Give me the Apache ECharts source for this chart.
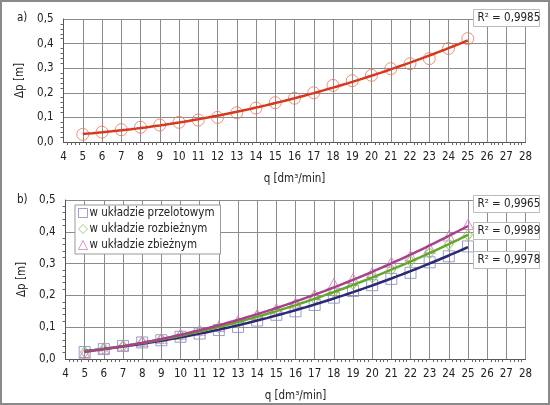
<!DOCTYPE html>
<html><head><meta charset="utf-8">
<script src="https://cdn.jsdelivr.net/npm/echarts@6/dist/echarts.min.js"></script>
<style>html,body{margin:0;padding:0;background:#fff}#c{width:550px;height:405px;box-sizing:border-box;border:2px solid #8a8a8a}</style>
</head><body><div id="c"></div>
<script>
// ---- data ----
var q = [5,6,7,8,9,10,11,12,13,14,15,16,17,18,19,20,21,22,23,24,25];
var dpA = [0.031,0.040,0.050,0.060,0.069,0.080,0.089,0.100,0.119,0.138,0.160,0.178,0.200,0.230,0.249,0.271,0.298,0.318,0.339,0.380,0.420];
var dpPrzelotowy = [0.022,0.031,0.041,0.052,0.059,0.070,0.080,0.091,0.101,0.121,0.139,0.150,0.170,0.193,0.214,0.232,0.252,0.271,0.304,0.323,0.354];
var dpRozbiezny = [0.022,0.033,0.041,0.052,0.062,0.074,0.087,0.099,0.114,0.134,0.150,0.168,0.189,0.211,0.236,0.256,0.281,0.307,0.333,0.361,0.390];
var dpZbiezny = [0.018,0.032,0.042,0.056,0.064,0.078,0.090,0.102,0.120,0.140,0.158,0.176,0.203,0.237,0.253,0.272,0.304,0.325,0.348,0.387,0.423];
var names = ['w układzie przelotowym','w układzie rozbieżnym','w układzie zbieżnym'];
var r2Labels = ['R² = 0,9985','R² = 0,9965','R² = 0,9989','R² = 0,9978'];
var xTitle = 'q [dm³/min]';
var yTitle = 'Δp [m]';

// quadratic least-squares trendline (like the spreadsheet trendline)
function quadFit(xs, ys){
  var n=xs.length,S=[0,0,0,0,0],T=[0,0,0];
  for(var i=0;i<n;i++){var x=xs[i],y=ys[i],p=1;for(var k=0;k<5;k++){S[k]+=p;if(k<3)T[k]+=p*y;p*=x;}}
  var A=[[S[0],S[1],S[2],T[0]],[S[1],S[2],S[3],T[1]],[S[2],S[3],S[4],T[2]]];
  for(var c=0;c<3;c++){for(var r=c+1;r<3;r++){var f=A[r][c]/A[c][c];for(var k2=c;k2<4;k2++)A[r][k2]-=f*A[c][k2];}}
  var b=[0,0,0];
  for(var r2=2;r2>=0;r2--){var s=A[r2][3];for(var k3=r2+1;k3<3;k3++)s-=A[r2][k3]*b[k3];b[r2]=s/A[r2][r2];}
  var out=[];
  for(var x2=xs[0];x2<=xs[n-1]+1e-9;x2+=0.25){out.push([x2,b[0]+b[1]*x2+b[2]*x2*x2]);}
  return out;
}
function pairs(ys){return q.map(function(x,i){return [x,ys[i]];});}

var FONT = '"DejaVu Sans Condensed","DejaVu Sans",sans-serif';
var FS = 'condensed';
var SIZE = 11.5;
var TS = {fontFamily:FONT,fontStyle:FS,fontSize:SIZE,color:'#222'};
var gridColor = '#8c8c8c';
function xAxis(gi){
  return {type:'value',gridIndex:gi,min:4,max:28,interval:1,
    name:xTitle,nameLocation:'middle',nameGap:31,
    nameTextStyle:TS,
    axisLine:{lineStyle:{color:'#555',width:1}},
    axisTick:{show:false},
    minorTick:{show:true,splitNumber:5,length:3,lineStyle:{color:'#666'}},
    axisLabel:Object.assign({margin:9},TS),
    splitLine:{show:true,lineStyle:{color:gridColor,width:1}}};
}
function yAxis(gi){
  return {type:'value',gridIndex:gi,min:0,max:0.5,interval:0.1,
    name:yTitle,nameLocation:'middle',nameGap:30,
    nameTextStyle:TS,
    axisLine:{show:true,lineStyle:{color:'#555',width:1}},
    axisTick:{show:false},
    minorTick:{show:true,splitNumber:5,length:3,lineStyle:{color:'#666'}},
    axisLabel:Object.assign({margin:10,
      formatter:function(v){return v.toFixed(1).replace('.',',');}},TS),
    splitLine:{show:true,lineStyle:{color:gridColor,width:1}}};
}
function r2Box(text,left,top){
  return {type:'group',left:left,top:top,z:100,children:[
    {type:'rect',z:100,shape:{x:0,y:0,width:66,height:17},style:{fill:'#fff',stroke:'#bbb',lineWidth:1}},
    {type:'text',z:101,style:{x:4,y:2.5,text:text,font:FS+' '+SIZE+'px '+FONT,fill:'#222'}}]};
}
var sq = {c:'#8584c4',l:'#2a2877'}, di={c:'#8cc25a',l:'#62a82a'}, tr={c:'#cf80c2',l:'#a8408a'};
var option = {
  animation:false,
  grid:[{left:61.5,right:22.5,top:17,height:123},{left:63.5,right:22.5,top:198,height:162}],
  xAxis:[xAxis(0),xAxis(1)],
  yAxis:[yAxis(0),yAxis(1)],
  legend:{left:73,top:203,orient:'vertical',itemGap:4,itemWidth:9,itemHeight:9,
    padding:[2,6,3,3],backgroundColor:'#fff',borderColor:'#999',borderWidth:1,
    textStyle:Object.assign({padding:[0,0,0,-3]},TS),
    data:[{name:names[0],icon:'rect',itemStyle:{color:'#fff',borderColor:sq.c,borderWidth:1}},
          {name:names[1],icon:'diamond',itemStyle:{color:'#fff',borderColor:di.c,borderWidth:1}},
          {name:names[2],icon:'triangle',itemStyle:{color:'#fff',borderColor:tr.c,borderWidth:1}}]},
  graphic:[
    {type:'text',left:15,top:10,style:{text:'a)',font:FS+' '+SIZE+'px '+FONT,fill:'#222'}},
    {type:'text',left:15,top:192,style:{text:'b)',font:FS+' '+SIZE+'px '+FONT,fill:'#222'}},
    r2Box(r2Labels[0],471,7), r2Box(r2Labels[1],471,193), r2Box(r2Labels[2],471,220), r2Box(r2Labels[3],471,249)
  ],
  series:[
    {type:'scatter',xAxisIndex:0,yAxisIndex:0,data:pairs(dpA),symbol:'circle',symbolSize:12,
      itemStyle:{color:'rgba(255,255,255,0)',borderColor:'#e8735c',borderWidth:1},z:2},
    {type:'line',xAxisIndex:0,yAxisIndex:0,data:quadFit(q,dpA),showSymbol:false,lineStyle:{color:'#d8381c',width:2.5},z:3},
    {name:names[0],type:'scatter',xAxisIndex:1,yAxisIndex:1,data:pairs(dpPrzelotowy),symbol:'rect',symbolSize:11,
      itemStyle:{color:'rgba(255,255,255,0)',borderColor:sq.c,borderWidth:1},z:2},
    {name:names[1],type:'scatter',xAxisIndex:1,yAxisIndex:1,data:pairs(dpRozbiezny),symbol:'diamond',symbolSize:[9,11],
      itemStyle:{color:'rgba(255,255,255,0)',borderColor:di.c,borderWidth:1},z:2},
    {name:names[2],type:'scatter',xAxisIndex:1,yAxisIndex:1,data:pairs(dpZbiezny),symbol:'triangle',symbolSize:[11,10],
      itemStyle:{color:'rgba(255,255,255,0)',borderColor:tr.c,borderWidth:1},z:2},
    {type:'line',xAxisIndex:1,yAxisIndex:1,data:quadFit(q,dpPrzelotowy),showSymbol:false,lineStyle:{color:sq.l,width:2.5},z:3},
    {type:'line',xAxisIndex:1,yAxisIndex:1,data:quadFit(q,dpRozbiezny),showSymbol:false,lineStyle:{color:di.l,width:2.5},z:3},
    {type:'line',xAxisIndex:1,yAxisIndex:1,data:quadFit(q,dpZbiezny),showSymbol:false,lineStyle:{color:tr.l,width:2.5},z:3}
  ]
};
var chart = echarts.init(document.getElementById('c'),null,{renderer:'canvas'});
chart.setOption(option);
</script></body></html>
